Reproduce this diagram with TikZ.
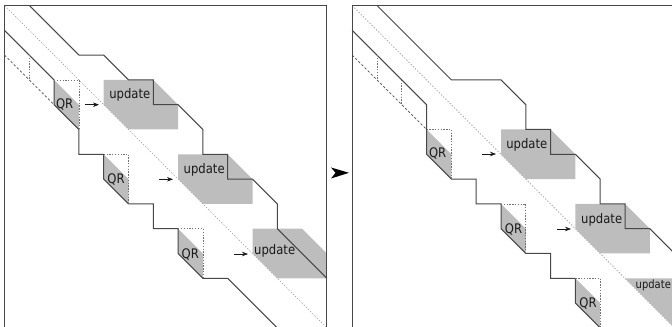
\documentclass[tikz,border=0pt]{standalone}
\usepackage{fontspec}
\usetikzlibrary{arrows.meta}
\setmainfont{DejaVu Sans}
\begin{document}
\begin{tikzpicture}[x=0.75pt,y=-0.75pt,
  solidline/.style={draw=black!72,line width=0.75pt,line join=miter},
  dashline/.style={draw=black!70,line width=0.5pt,dash pattern=on 1.8pt off 1.5pt},
  dotline/.style={draw=black!55,line width=0.55pt,dash pattern=on 1pt off 1.1pt},
  diagline/.style={draw=black!40,line width=0.5pt,dash pattern=on 1pt off 1.3pt},
  panel/.style={draw=black!72,line width=0.75pt},
  shade/.style={fill=black!26,draw=none},
  lbl/.style={font=\fontsize{9.9pt}{11pt}\selectfont,inner sep=0pt,text=black!90,xscale=0.88},
  edgelbl/.style={font=\fontsize{8.6pt}{10pt}\selectfont,inner sep=0pt,text=black!90,xscale=0.87},
  smallarrow/.style={-{Stealth[length=4.5pt,width=3.4pt]},draw=black!90,line width=0.5pt},
  L/.style={shift={(4.5,5.5)},x=18.6pt,y=-18.6pt},
  R/.style={shift={(352.2,5.5)},x=18.6pt,y=-18.6pt}]
\useasboundingbox (0,0) rectangle (672,327);
\clip (0,0) rectangle (672,327);
% left panel
\begin{scope}[L]
  \draw[diagline] (0,0) -- (13,13);
  \fill[shade] (2,3) -- (3,4) -- (3,5) -- (2,4) -- cycle;
  \fill[shade] (4,6) -- (5,7) -- (5,8) -- (4,7) -- cycle;
  \fill[shade] (7,9) -- (8,10) -- (8,11) -- (7,10) -- cycle;
  \fill[shade] (4,3) -- (6,3) -- (7,4) -- (7,5) -- (5,5) -- (4,4) -- cycle;
  \fill[shade] (7,6) -- (9,6) -- (10,7) -- (10,8) -- (8,8) -- (7,7) -- cycle;
  \fill[shade] (10,9) -- (12,9) -- (13,10) -- (13,11) -- (11,11) -- (10,10) -- cycle;
  \draw[panel] (0,14) -- (0,0) -- (13,0) -- (13,14);
  \draw[solidline] (1,0) -- (3,2) -- (4,2) -- (5,3) -- (6,3) -- (6,4) -- (7,4) -- (8,5) -- (8,6) -- (9,6) -- (9,7) -- (10,7) -- (11,8) -- (11,9) -- (13,11);
  \draw[solidline] (0,1) -- (2,3) -- (2,4) -- (3,5) -- (3,6) -- (4,6) -- (4,7) -- (5,8) -- (6,8) -- (6,9) -- (7,9) -- (7,10) -- (8,11) -- (9,11) -- (11,13);
  \draw[dashline] (0,2) -- (2,4);
  \draw[dotline] (1,2) -- (1,3);
  \draw[dotline] (2,3) -- (3,3) -- (3,5);
  \draw[dotline] (4,6) -- (5,6) -- (5,8);
  \draw[dotline] (7,9) -- (8,9) -- (8,11);
\end{scope}
\node[lbl] (qra) at (64.7,104.5) {QR};
\node[lbl] (qrb) at (116,179.2) {QR};
\node[lbl] (qrc) at (190.3,254.2) {QR};
\node[lbl] (upa) at (129.8,94.7) {update};
\node[lbl] (upb) at (204.2,169.4) {update};
\node[lbl] (upc) at (274.7,251.2) {update};
\draw[smallarrow] (85,104.7) -- (99,104.7);
\draw[smallarrow] (159,179.3) -- (173,179.3);
\draw[smallarrow] (234,254) -- (248,254);
% centre arrow
\fill[black] (331,167.5) -- (349,172.8) -- (331,178.5) -- (335.5,172.8) -- cycle;
% right panel
\begin{scope}[R]
  \draw[diagline] (0,0) -- (13,13);
  \fill[shade] (3,5) -- (4,6) -- (4,7) -- (3,6) -- cycle;
  \fill[shade] (6,8) -- (7,9) -- (7,10) -- (6,9) -- cycle;
  \fill[shade] (9,11) -- (10,12) -- (10,13) -- (9,12) -- cycle;
  \fill[shade] (6,5) -- (8,5) -- (9,6) -- (9,7) -- (7,7) -- (6,6) -- cycle;
  \fill[shade] (9,8) -- (11,8) -- (12,9) -- (12,10) -- (10,10) -- (9,9) -- cycle;
  \fill[shade] (11,11) -- (14,11) -- (14,14) -- cycle;
  \draw[panel] (0,14) -- (0,0) -- (14,0);
  \draw[solidline] (1,0) -- (4,3) -- (6,3) -- (7,4) -- (7,5) -- (8,5) -- (8,6) -- (9,6) -- (10,7) -- (10,8) -- (11,8) -- (11,9) -- (12,9) -- (14,11);
  \draw[solidline] (0,1) -- (3,4) -- (3,6) -- (4,7) -- (5,7) -- (5,8) -- (6,8) -- (6,9) -- (7,10) -- (8,10) -- (8,11) -- (9,11) -- (9,12) -- (10,13);
  \draw[dashline] (0,2) -- (3,5);
  \draw[dotline] (1,2) -- (1,3);
  \draw[dotline] (2,3) -- (2,4);
  \draw[dotline] (3,5) -- (4,5) -- (4,7);
  \draw[dotline] (6,8) -- (7,8) -- (7,10);
  \draw[dotline] (9,11) -- (10,11) -- (10,13);
\end{scope}
\node[lbl] (qrd) at (437.7,153.8) {QR};
\node[lbl] (qre) at (513.5,229.2) {QR};
\node[lbl] (qrf) at (588,303.8) {QR};
\node[lbl] (upd) at (526.8,144.4) {update};
\node[lbl] (upe) at (601.7,219.4) {update};
\node[edgelbl] (upf) at (653.3,285.3) {update};
\draw[smallarrow] (482,154) -- (496,154);
\draw[smallarrow] (557,229) -- (571,229);
\end{tikzpicture}
\end{document}
